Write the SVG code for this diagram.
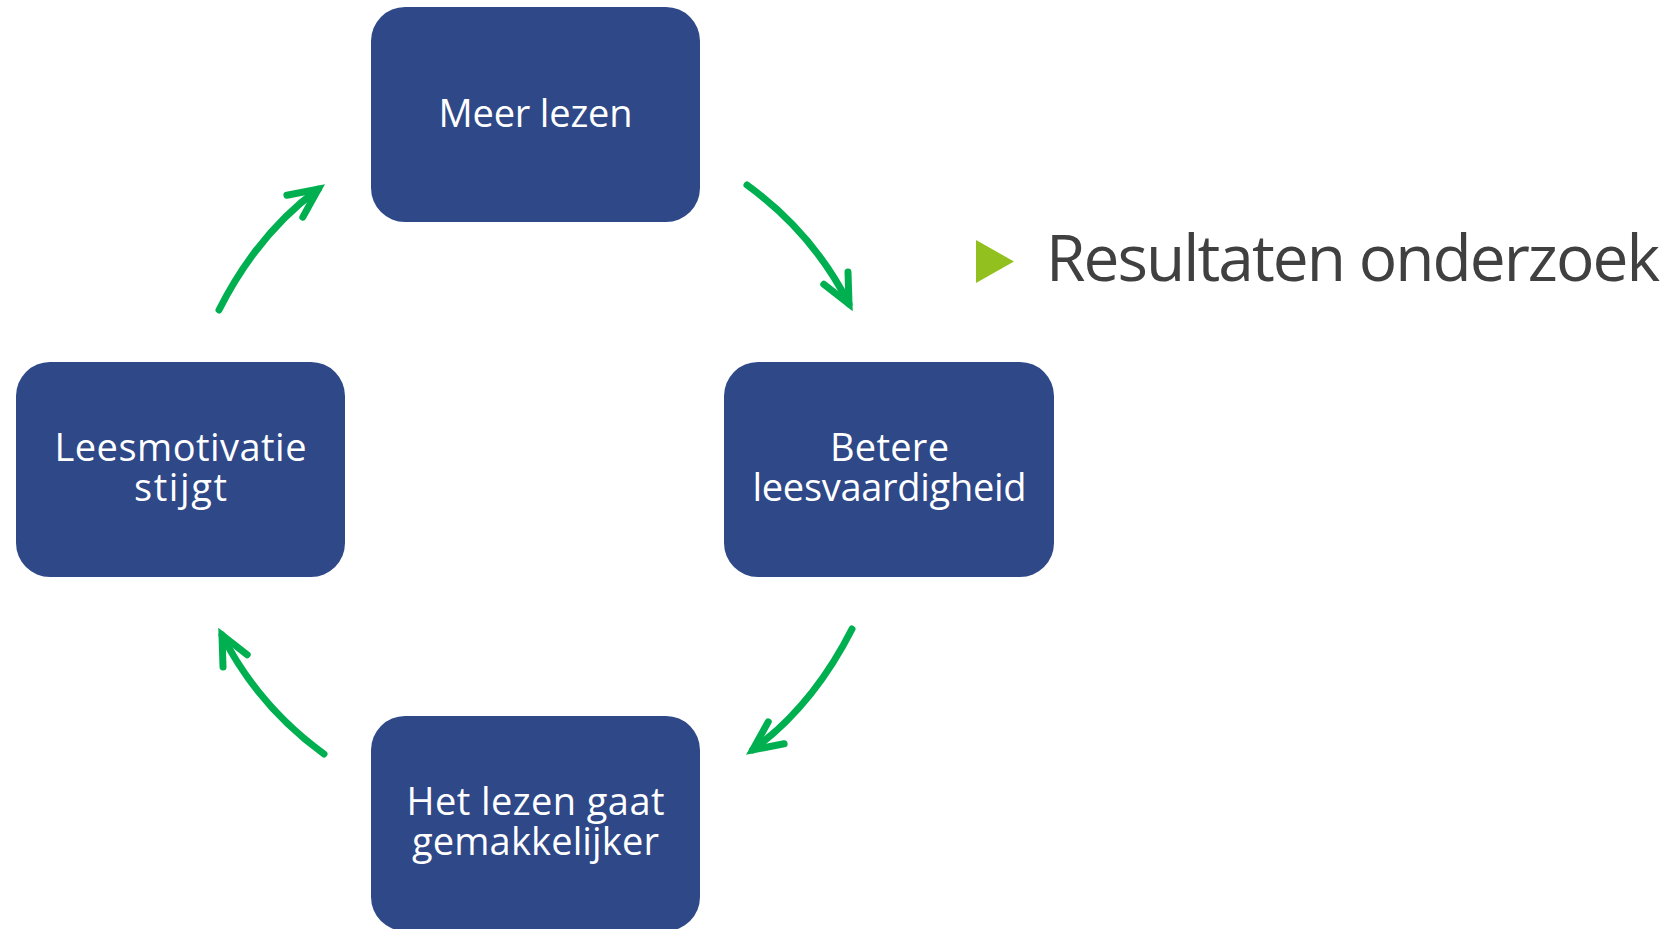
<svg xmlns="http://www.w3.org/2000/svg" width="1673" height="929" viewBox="0 0 1673 929">
<style>
.box{fill:#2E4888;}
.lbl{font-family:"Open Sans","DejaVu Sans",sans-serif;font-size:38px;fill:#FFFFFF;text-anchor:middle;}
.shaft{fill:none;stroke:#00B050;stroke-width:7;stroke-linecap:round;}
.head{fill:none;stroke:#00B050;stroke-width:7;stroke-linecap:round;stroke-linejoin:miter;stroke-miterlimit:10;}
.title{font-family:"Open Sans","DejaVu Sans",sans-serif;font-size:64px;fill:#404040;}
</style>
<rect width="1673" height="929" fill="#FFFFFF"/>
<g id="node-meer-lezen">
<rect class="box" x="371" y="7" width="329" height="215" rx="34"/>
<text class="lbl" x="535.5" y="127" textLength="194">Meer lezen</text>
</g>
<g id="node-betere-leesvaardigheid">
<rect class="box" x="724" y="362" width="330" height="215" rx="34"/>
<text class="lbl" x="889.5" y="461" textLength="119">Betere</text>
<text class="lbl" x="889.5" y="500.5" textLength="274">leesvaardigheid</text>
</g>
<g id="node-leesmotivatie">
<rect class="box" x="16" y="362" width="329" height="215" rx="34"/>
<text class="lbl" x="180.5" y="461" textLength="252">Leesmotivatie</text>
<text class="lbl" x="180.5" y="500.5" textLength="93">stijgt</text>
</g>
<g id="node-het-lezen">
<rect class="box" x="371" y="716" width="329" height="215" rx="34"/>
<text class="lbl" x="535.5" y="815" textLength="258">Het lezen gaat</text>
<text class="lbl" x="535.5" y="855" textLength="247">gemakkelijker</text>
</g>
<g id="connectors">
<path class="shaft" d="M747,185 Q813,233 849,304"/>
<path class="head" d="M823.8,284.3 L849,304 L848,272"/>
<path class="shaft" d="M852,629 Q813,706 752.7,749.9"/>
<path class="head" d="M768.2,721.9 L752.7,749.9 L784.1,743.8"/>
<path class="shaft" d="M324,754 Q258,706 222,635"/>
<path class="head" d="M247.2,654.7 L222,635 L223,667"/>
<path class="shaft" d="M219,310 Q258,233 318.3,189.1"/>
<path class="head" d="M302.8,217.1 L318.3,189.1 L286.9,195.2"/>
</g>
<g id="title">
<polygon points="976,240 1014,261.5 976,283" fill="#92C01F"/>
<text class="title" x="1046" y="281" textLength="614">Resultaten onderzoek</text>
</g>
</svg>
